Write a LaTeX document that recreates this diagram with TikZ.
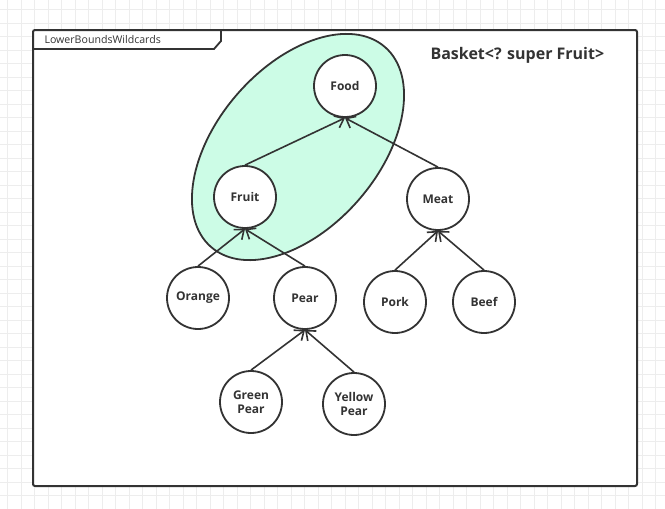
\documentclass[tikz,border=0pt]{standalone}
\usepackage{fontspec}
\setmainfont{Open Sans}
\usetikzlibrary{arrows.meta}
\definecolor{ink}{HTML}{333333}
\definecolor{mint}{HTML}{CCFCE6}
\definecolor{gridc}{HTML}{EDEDED}
\begin{document}
\begin{tikzpicture}[x=1pt,y=-1pt,
  item/.style={circle,draw=ink,line width=1.8pt,fill=white,minimum size=62pt,inner sep=0pt,
    font=\fontsize{12}{14}\selectfont\bfseries,text=ink,align=center},
  link/.style={draw=ink,line width=1.6pt,-{Straight Barb[length=8pt,width=13pt,line width=1.6pt]}}]
\useasboundingbox (0,0) rectangle (665,509);
% background grid
\begin{scope}
\clip (0,0) rectangle (665,509);
\foreach \i in {0,...,50} {
  \draw[gridc,line width=0.6pt] (\i*13.5-6,0) -- (\i*13.5-6,509);
  \draw[gridc,line width=0.6pt] (0,\i*13.5-4) -- (665,\i*13.5-4);
}
\end{scope}
% frame
\draw[ink,line width=2pt,fill=white,rounded corners=2pt] (33,30) rectangle (637,486);
\draw[ink,line width=1.8pt] (33,49) -- (214,49) -- (221,41) -- (221,30);
\node[anchor=west,font=\fontsize{10.6}{12}\selectfont,text=ink] (lbl) at (41,40) {LowerBoundsWildcards};
\node[anchor=west,font=\fontsize{16}{18}\selectfont\bfseries,text=ink] (title) at (427,55) {Basket<? super Fruit>};
% highlight ellipse
\draw[ink,line width=1.8pt,fill=mint,rotate around={49:(298,147)}] (298,147) ellipse [x radius=132.5pt, y radius=80.5pt];
% nodes
\node[item] (food) at (345,86) {Food};
\node[item] (fruit) at (245,197) {Fruit};
\node[item] (meat) at (438,199) {Meat};
\node[item] (orange) at (198,298) {Orange};
\node[item] (pear) at (305,298) {Pear};
\node[item] (pork) at (395,302) {Pork};
\node[item] (beef) at (484,302) {Beef};
\node[item] (green) at (251,402) {Green\\Pear};
\node[item] (yellow) at (354,404) {Yellow\\Pear};
% connectors
\draw[link] (fruit.north) -- (food.south);
\draw[link] (meat.north) -- (food.south);
\draw[link] (orange.north) -- (fruit.south);
\draw[link] (pear.north) -- (fruit.south);
\draw[link] (pork.north) -- (meat.south);
\draw[link] (beef.north) -- (meat.south);
\draw[link] (green.north) -- (pear.south);
\draw[link] (yellow.north) -- (pear.south);
\end{tikzpicture}
\end{document}
